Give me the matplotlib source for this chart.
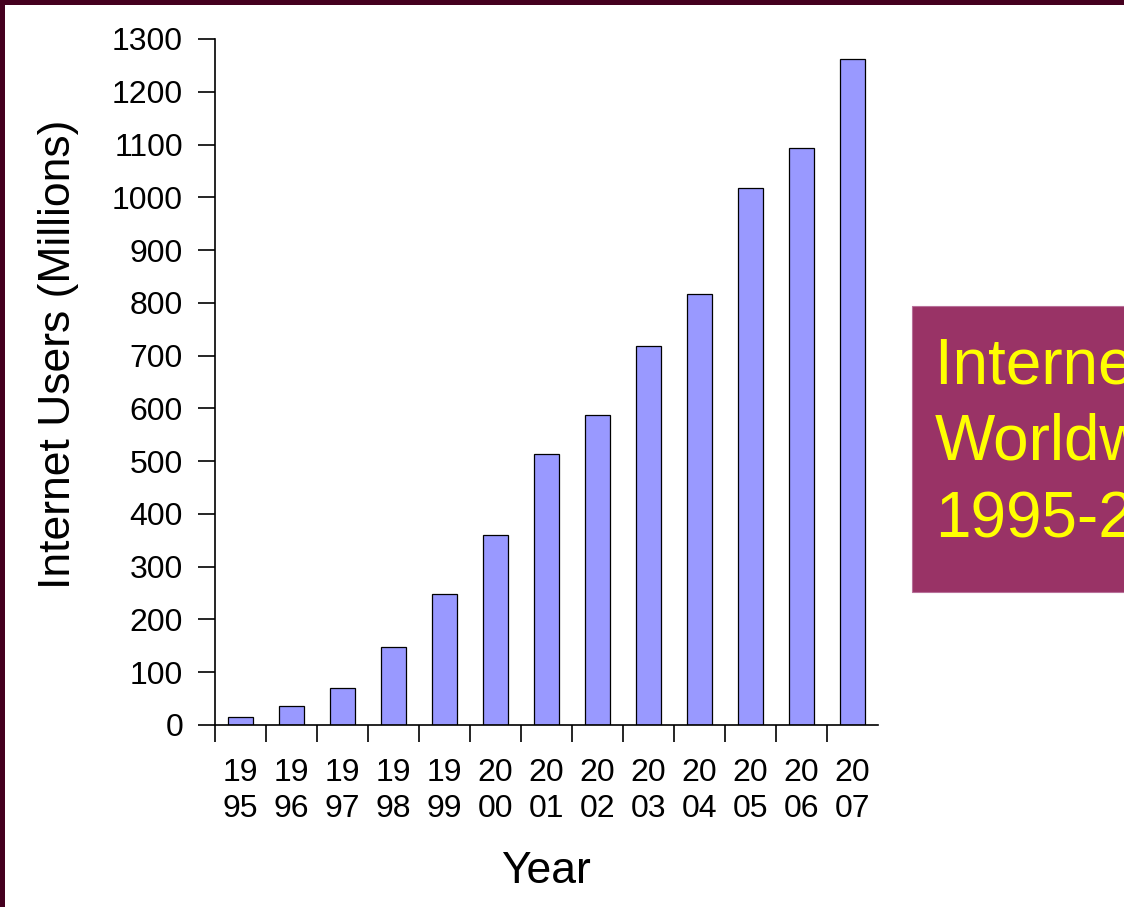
import matplotlib.pyplot as plt
from matplotlib.patches import Rectangle

plt.rcParams['font.family'] = ['Liberation Sans', 'DejaVu Sans']

# data
years = ['1995', '1996', '1997', '1998', '1999', '2000', '2001',
         '2002', '2003', '2004', '2005', '2006', '2007']
users = [16, 36, 70, 147, 248, 361, 513, 587, 719, 817, 1018, 1093, 1262]
y_ticks = list(range(0, 1301, 100))
box_lines = ['Internet Users', 'Worldwide', '1995-2007']

W, H = 1124, 907
fig = plt.figure(figsize=(W / 100, H / 100), dpi=100)
fig.patch.set_facecolor('white')

# dark slide border (top and left)
border = '#45001f'
fig.patches.append(Rectangle((0, 1 - 5 / H), 1, 5 / H, transform=fig.transFigure,
                             facecolor=border, edgecolor='none', zorder=0))
fig.patches.append(Rectangle((0, 0), 5 / W, 1, transform=fig.transFigure,
                             facecolor=border, edgecolor='none', zorder=0))

ax = fig.add_axes([215 / W, 1 - 725 / H, (878 - 215) / W, (725 - 39) / H])
x = list(range(len(years)))
ax.bar(x, users, width=0.5, color='#9999ff', edgecolor='black', linewidth=0.9, zorder=2)

ax.set_xlim(-0.5, len(years) - 0.5)
ax.set_ylim(0, 1300)
ax.set_yticks(y_ticks)
ax.set_yticklabels([str(v) for v in y_ticks], fontsize=23)

# tick marks between categories, labels centered under bars
ax.set_xticks([i - 0.5 for i in x])
ax.set_xticklabels([])
ax.set_xticks(x, minor=True)
ax.set_xticklabels([y[:2] + '\n' + y[2:] for y in years], minor=True,
                   fontsize=23, linespacing=1.25)
ax.tick_params(axis='x', which='major', direction='out', length=12, width=1.2, color='black')
ax.tick_params(axis='x', which='minor', length=0, pad=24)
ax.tick_params(axis='y', direction='out', length=12, width=1.2, pad=11, color='black')

for s in ['top', 'right']:
    ax.spines[s].set_visible(False)
for s in ['left', 'bottom']:
    ax.spines[s].set_linewidth(1.2)
    ax.spines[s].set_color('black')

# axis titles
fig.text(70 / W, 1 - 354 / H, 'Internet Users (Millions)', rotation=90,
         rotation_mode='anchor', ha='center', va='baseline', fontsize=32)
fig.text(546 / W, 1 - 883 / H, 'Year', ha='center', va='baseline', fontsize=32)

# title box on the right (cut by slide edge, as in the original slide)
box = Rectangle((912 / W, 1 - 592 / H), 1 - 912 / W + 0.01, 286 / H,
                transform=fig.transFigure, facecolor='#993366',
                edgecolor='#b8709a', linewidth=0.8)
fig.patches.append(box)
for line, base in zip(box_lines, [383, 460, 538]):
    fig.text(935 / W, 1 - base / H, line, ha='left', va='baseline',
             fontsize=46, color='#ffff00')

fig.savefig('out.png', dpi=100)
